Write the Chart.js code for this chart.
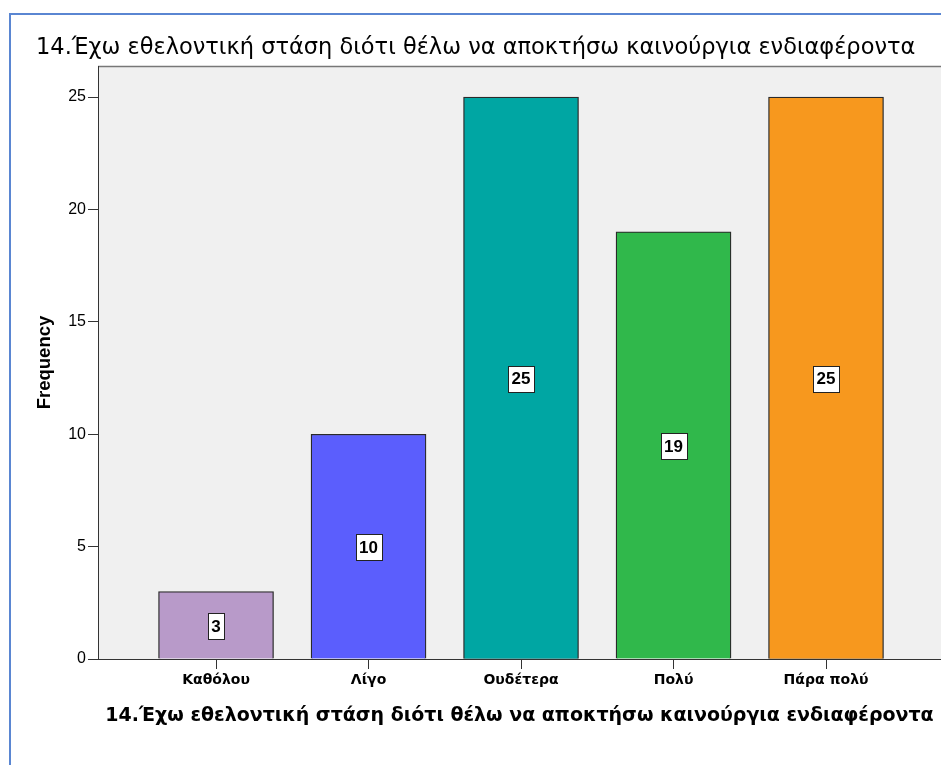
<!DOCTYPE html>
<html>
<head>
<meta charset="utf-8">
<script src="https://cdn.jsdelivr.net/npm/chart.js@4.4.0/dist/chart.umd.min.js"></script>
<style>
  html, body { margin: 0; padding: 0; background: #ffffff; }
  #wrap { position: relative; width: 941px; height: 765px; overflow: hidden; }
  #frame { position: absolute; left: 9px; top: 13px; width: 940px; height: 760px;
           border-left: 2px solid #5a86d2; border-top: 2px solid #5a86d2; }
  canvas { position: absolute; left: 0; top: 0; }
</style>
</head>
<body>
<div id="wrap">
  <div id="frame"></div>
  <canvas id="c" width="941" height="765"></canvas>
</div>
<script>
const chartTitle = "14.Έχω εθελοντική στάση διότι θέλω να αποκτήσω καινούργια ενδιαφέροντα";
const categories = ["Καθόλου", "Λίγο", "Ουδέτερα", "Πολύ", "Πάρα πολύ"];
const values = [3, 10, 25, 19, 25];
const barColors = ["#b89ac9", "#5b5efd", "#00a6a3", "#30b84b", "#f7981e"];
const yTicks = [0, 5, 10, 15, 20, 25];
const yAxisLabel = "Frequency";

const SANS = "'Liberation Sans', Arial, sans-serif";
const WIDE = "'DejaVu Sans', Verdana, sans-serif";

const bgPlugin = {
  id: 'plotBg',
  beforeDraw(chart) {
    const {ctx, chartArea: a} = chart;
    ctx.save();
    ctx.fillStyle = '#f0f0f0';
    ctx.fillRect(a.left, a.top, a.right - a.left, a.bottom - a.top);
    ctx.strokeStyle = '#777777';
    ctx.lineWidth = 1.5;
    ctx.beginPath();
    ctx.moveTo(a.left, a.top + 0.5);
    ctx.lineTo(a.right, a.top + 0.5);
    ctx.stroke();
    ctx.restore();
  }
};

const labelPlugin = {
  id: 'valueBoxes',
  afterDatasetsDraw(chart) {
    const {ctx} = chart;
    const meta = chart.getDatasetMeta(0);
    ctx.save();
    ctx.font = "bold 17px " + SANS;
    ctx.textAlign = 'center';
    ctx.textBaseline = 'middle';
    meta.data.forEach((bar, i) => {
      const txt = String(values[i]);
      const cx = bar.x;
      const cy = (bar.y + bar.base) / 2 + 1;
      const w = Math.round(ctx.measureText(txt).width) + 7;
      const h = 26;
      const x0 = Math.round(cx - w / 2) + 0.5;
      const y0 = Math.round(cy - h / 2) + 0.5;
      ctx.fillStyle = '#ffffff';
      ctx.fillRect(x0, y0, w, h);
      ctx.strokeStyle = '#222222';
      ctx.lineWidth = 1;
      ctx.strokeRect(x0, y0, w, h);
      ctx.fillStyle = '#000000';
      ctx.fillText(txt, cx, cy + 1);
    });
    ctx.restore();
  }
};

new Chart(document.getElementById('c'), {
  type: 'bar',
  data: {
    datasets: [{
      data: values.map((v, i) => ({x: i, y: v})),
      backgroundColor: barColors,
      borderColor: '#2a2a2a',
      borderWidth: 1.3,
      barThickness: 115
    }]
  },
  options: {
    responsive: false,
    animation: false,
    devicePixelRatio: 1,
    layout: { padding: { left: 36, top: 0, right: 0, bottom: 0 } },
    plugins: {
      legend: { display: false },
      tooltip: { enabled: false },
      title: {
        display: true,
        text: chartTitle,
        align: 'start',
        color: '#000000',
        font: { family: WIDE, size: 22.5, weight: 'normal', lineHeight: 1.2 },
        padding: { top: 35, bottom: 4 }
      }
    },
    scales: {
      x: {
        type: 'linear',
        offset: false,
        min: -0.774,
        max: 4.754,
        afterBuildTicks(scale) { scale.ticks = categories.map((c, i) => ({value: i})); },
        afterFit(scale) { scale.height = 765 - 659; },
        ticks: {
          autoSkip: false, maxRotation: 0, minRotation: 0,
          padding: 3,
          color: '#000000',
          font: { family: WIDE, size: 14, weight: 'bold' },
          callback: (v) => categories[v] ?? ''
        },
        grid: { offset: false, drawOnChartArea: false, drawTicks: true, tickLength: 10, color: '#333333', lineWidth: 1 },
        border: { display: true, color: '#333333', width: 1 },
        title: {
          display: true,
          text: chartTitle,
          color: '#000000',
          font: { family: WIDE, size: 19, weight: 'bold', lineHeight: 1.2 },
          padding: { top: 0, bottom: 38 }
        }
      },
      y: {
        min: 0,
        max: 26.38,
        afterBuildTicks(scale) { scale.ticks = yTicks.map(v => ({value: v})); },
        afterFit(scale) { scale.width = 98 - 36; },
        ticks: {
          padding: 2,
          color: '#000000',
          font: { family: SANS, size: 16 }
        },
        grid: { drawOnChartArea: false, drawTicks: true, tickLength: 10, color: '#333333', lineWidth: 1 },
        border: { display: true, color: '#333333', width: 1 },
        title: {
          display: true,
          text: yAxisLabel,
          color: '#000000',
          font: { family: SANS, size: 18.5, weight: 'bold', lineHeight: 1 },
          padding: { top: 0, bottom: 0 }
        }
      }
    }
  },
  plugins: [bgPlugin, labelPlugin]
});
</script>
</body>
</html>
